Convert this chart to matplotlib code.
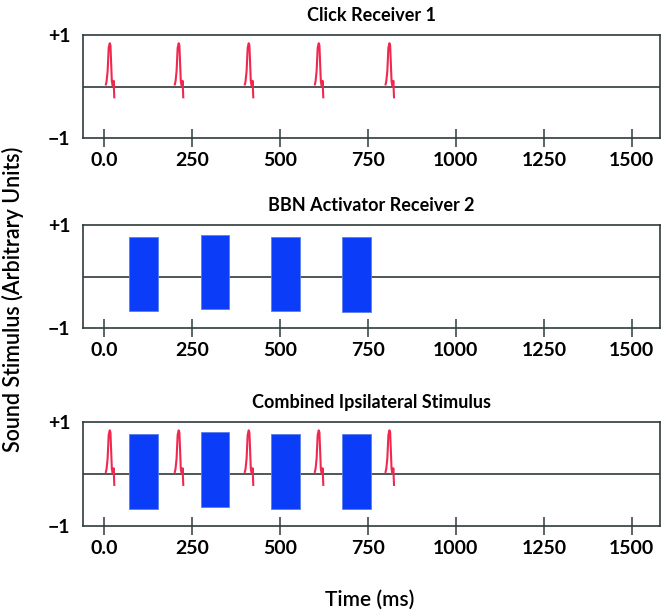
import numpy as np
import matplotlib
matplotlib.use("Agg")
import matplotlib.pyplot as plt

plt.rcParams['font.family'] = ['Lato', 'DejaVu Sans']

# ---- data ----
titles = ["Click Receiver 1", "BBN Activator Receiver 2", "Combined Ipsilateral Stimulus"]
x_ticks = [0, 250, 500, 750, 1000, 1250, 1500]
x_tick_labels = ["0.0", "250", "500", "750", "1000", "1250", "1500"]
y_ticks = [-1, 1]
y_tick_labels = ["\u22121", "+1"]

# click onsets (ms) and click waveform template (offset ms, amplitude)
click_onsets = [5, 201, 400, 599, 800]
click_offsets = [0, 2, 5, 8, 11, 13, 15, 17, 19, 21, 22, 23, 24]
click_amps = [0.04, 0.10, 0.30, 0.75, 0.84, 0.80, 0.45, 0.10, 0.02, 0.02, 0.11, -0.05, -0.21]

# BBN bursts: onsets, durations (ms), upper and lower amplitudes
bbn_onsets = [72, 274, 473, 675]
bbn_durations = [82, 81, 85, 83]
bbn_tops = [0.77, 0.80, 0.77, 0.76]
bbn_bottoms = [-0.67, -0.64, -0.67, -0.68]

frame_color = '#2f3b3b'
click_color = '#f0284f'
bbn_color = '#0b3cf7'

fig = plt.figure(figsize=(6.64, 6.14), dpi=100)

left, width = 83 / 664, (660 - 83) / 664
panel_px = [(35, 138), (225, 328), (422, 526)]

def draw_clicks(ax):
    xs, ys = [], []
    for t in click_onsets:
        xs += [t + o for o in click_offsets] + [np.nan]
        ys += list(click_amps) + [np.nan]
    ax.plot(xs, ys, color=click_color, lw=1.5, zorder=3, solid_joinstyle='round')

def draw_bbn(ax):
    heights = [t - b for t, b in zip(bbn_tops, bbn_bottoms)]
    ax.bar(bbn_onsets, heights, width=bbn_durations, bottom=bbn_bottoms, align='edge',
           color=bbn_color, edgecolor='#5b7fe8', linewidth=0.6, zorder=4)

for i, (top, bot) in enumerate(panel_px):
    ax = fig.add_axes([left, 1 - bot / 614, width, (bot - top) / 614])
    ax.set_xlim(-60, 1580)
    ax.set_ylim(-1, 1)
    ax.axhline(0, color=frame_color, lw=1.2, zorder=2)
    if i in (0, 2):
        draw_clicks(ax)
    if i in (1, 2):
        draw_bbn(ax)
    for s in ax.spines.values():
        s.set_color(frame_color)
        s.set_linewidth(1.2)
    ax.set_xticks(x_ticks)
    ax.set_xticklabels(x_tick_labels, fontsize=14, fontweight='bold')
    ax.set_yticks(y_ticks)
    ax.set_yticklabels(y_tick_labels, fontsize=14, fontweight='bold')
    ax.tick_params(axis='x', direction='inout', length=13.5, width=1.1, color=frame_color, pad=3)
    ax.tick_params(axis='y', length=0, pad=9)
    ax.set_title(titles[i], fontsize=13, fontweight='bold', pad=10)

fig.text(0.019, 0.513, "Sound Stimulus (Arbitrary Units)", rotation=90,
         ha='center', va='center', fontsize=15.5, fontweight='semibold')
fig.text(0.557, 0.023, "Time (ms)", ha='center', va='center', fontsize=15, fontweight='semibold')

fig.savefig("out.png", dpi=100)
